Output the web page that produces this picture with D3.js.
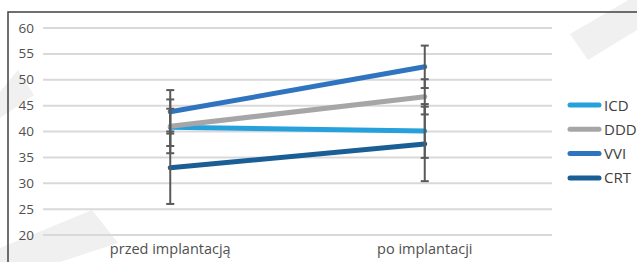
<!DOCTYPE html>
<html>
<head>
    <meta charset="utf-8">
    <title>line chart with error bars</title>
    <style>
    body { margin: 0; background: white; }
    text { font-family: "Open Sans", "Noto Sans", sans-serif; font-size: 13px; fill: #505050; }
    .grid line { stroke: #d9d9d9; stroke-width: 2; }
    .err { stroke: #595959; stroke-width: 2; }
    </style>
</head>
<body>
    <svg width="637" height="262"></svg>
    <script src="https://d3js.org/d3.v7.min.js"></script>
    <script>
        var categories = ["przed implantacją", "po implantacji"];
        var seriesNames = ["ICD", "DDD", "VVI", "CRT"];
        var seriesColors = ["#27a1dc", "#a6a6a6", "#2f74bf", "#1a5e96"];
        var icd = [40.8, 40.1];
        var ddd = [41.0, 46.7];
        var vvi = [43.8, 52.5];
        var crt = [33.0, 37.6];
        var icdErr = [3.6, 5.2];
        var dddErr = [5.2, 3.4];
        var vviErr = [4.2, 4.1];
        var crtErr = [7.0, 7.2];
        var yTicks = [20, 25, 30, 35, 40, 45, 50, 55, 60];

        var series = [
            {name: "ICD", values: icd, err: icdErr},
            {name: "DDD", values: ddd, err: dddErr},
            {name: "VVI", values: vvi, err: vviErr},
            {name: "CRT", values: crt, err: crtErr}
        ];

        var svg = d3.select("svg");

        // faint watermark stripes in the background
        var marks = [
            [[0, 262], [0, 248], [92, 210], [118, 243], [60, 262]],
            [[0, 92], [18, 70], [34, 95], [0, 118]],
            [[570, 34], [637, -5], [637, 30], [588, 60]]
        ];
        svg.selectAll(".wm").data(marks).enter().append("polygon")
            .attr("points", d => d.map(p => p.join(",")).join(" "))
            .attr("fill", "#f0f0f0");

        // frame
        svg.append("rect")
            .attr("x", 8).attr("y", 12)
            .attr("width", 640).attr("height", 260)
            .attr("fill", "none").attr("stroke", "#404040").attr("stroke-width", 1.5);

        var x = d3.scaleBand().domain(categories).range([43, 552]);
        var y = d3.scaleLinear().domain([20, 60]).range([235, 28]);
        var cx = d => x(d) + x.bandwidth() / 2;

        svg.append("g").attr("class", "grid")
            .selectAll("line").data(yTicks).enter().append("line")
            .attr("x1", 43).attr("x2", 552)
            .attr("y1", d => y(d)).attr("y2", d => y(d));

        svg.append("g").selectAll("text").data(yTicks).enter().append("text")
            .attr("x", 34).attr("y", d => y(d) + 4.5)
            .attr("text-anchor", "end")
            .style("font-size", "13.5px")
            .text(d => d);

        svg.append("g").selectAll("text").data(categories).enter().append("text")
            .attr("x", d => cx(d)).attr("y", 254)
            .attr("text-anchor", "middle")
            .style("font-size", "14.5px")
            .text(d => d);

        var line = d3.line()
            .x((d, i) => cx(categories[i]))
            .y(d => y(d));

        svg.append("g").selectAll("path").data(series).enter().append("path")
            .attr("d", d => line(d.values))
            .attr("fill", "none")
            .attr("stroke", (d, i) => seriesColors[i])
            .attr("stroke-width", 5)
            .attr("stroke-linecap", "round");

        // error bars
        var errs = [];
        series.forEach(function(s) {
            s.values.forEach(function(v, i) {
                errs.push({c: categories[i], lo: v - s.err[i], hi: v + s.err[i]});
            });
        });
        var eg = svg.append("g").attr("class", "err");
        eg.selectAll(".v").data(errs).enter().append("line")
            .attr("x1", d => cx(d.c)).attr("x2", d => cx(d.c))
            .attr("y1", d => y(d.lo)).attr("y2", d => y(d.hi));
        errs.forEach(function(d) {
            [d.lo, d.hi].forEach(function(v) {
                eg.append("line")
                    .attr("x1", cx(d.c) - 4).attr("x2", cx(d.c) + 4)
                    .attr("y1", y(v)).attr("y2", y(v));
            });
        });

        // legend
        var lg = svg.append("g").selectAll("g").data(seriesNames).enter().append("g")
            .attr("transform", (d, i) => "translate(570," + (105 + i * 24.3) + ")");
        lg.append("line")
            .attr("x1", 0).attr("x2", 29)
            .attr("stroke", (d, i) => seriesColors[i])
            .attr("stroke-width", 5)
            .attr("stroke-linecap", "round");
        lg.append("text")
            .attr("x", 34).attr("y", 5.5)
            .style("fill", "#404040")
            .style("font-size", "15px")
            .text(d => d);
    </script>
</body>
</html>
